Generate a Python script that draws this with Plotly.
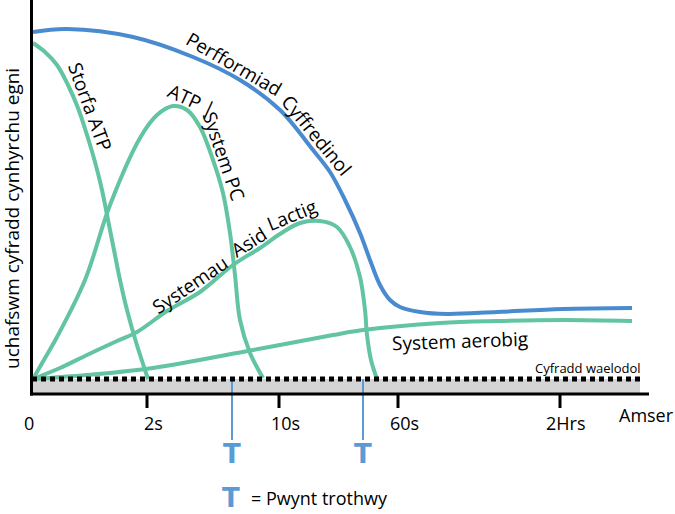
import math
import numpy as np
import plotly.graph_objects as go

# --- curve samples (x: time-axis units from origin, y: rate units above the time axis) ---
perf_x = [1, 35, 101, 161, 208, 248, 281, 298, 313, 328, 338, 348, 358, 368, 388, 415, 465, 531, 600]
perf_y = [362, 365, 357, 337, 314, 284, 244, 222, 194, 161, 134, 109, 94, 87, 82, 80, 82, 85, 86]

storfa_x = [1, 13, 25, 36, 46, 55, 63, 70, 76, 82, 88, 95, 104, 116]
storfa_y = [351, 342, 329, 309, 286, 259, 232, 204, 174, 144, 114, 84, 52, 15]

pc_x = [1, 13, 25, 53, 78, 108, 125, 141, 155, 168, 181, 191, 198, 203, 208, 218, 231]
pc_y = [15, 36, 57, 114, 189, 256, 279, 288, 284, 267, 234, 201, 161, 119, 74, 41, 16]

lactig_x = [1, 28, 55, 85, 105, 135, 168, 201, 228, 248, 268, 288, 305, 318, 328, 333, 335, 339, 345]
lactig_y = [15, 26, 39, 53, 62, 83, 102, 129, 146, 160, 171, 173, 167, 147, 117, 84, 59, 34, 15]

aerobig_x = [1, 55, 121, 221, 301, 331, 408, 465, 531, 600]
aerobig_y = [15, 19, 26, 44, 59, 64, 71, 73, 74, 73]

baseline_level = 15
band_end = 608
axis_end = 617
ymax = 394

tick_vals = [115, 247, 366, 528]
tick_text = ["2s", "10s", "60s", "2Hrs"]
threshold_x = [200, 331]

GREEN = "#62c4a1"
BLUE = "#4a8bd0"
TBLUE = "#5b9bd5"
FONT = "Open Sans"

curves = {
    "perf": (perf_x, perf_y),
    "storfa": (storfa_x, storfa_y),
    "pc": (pc_x, pc_y),
    "lactig": (lactig_x, lactig_y),
}

# (text, curve, position along x, gap off the curve, angle override)
curve_labels = [
    ("Perfformiad", "perf", 196, 12, 30),
    ("Cyffredinol", "perf", 275, 12, None),
    ("Storfa ATP", "storfa", 47, 12, None),
    ("ATP |", "pc", 155, 11, 25),
    ("System PC", "pc", 181, 11, None),
    ("Systemau", "lactig", 164, 11, -34),
    ("Asid", "lactig", 223, 11, None),
    ("Lactig", "lactig", 264, 11, -22),
]


# place a word along a curve: 1 axis unit is 1 px on both axes here
def label_on(cx, cy, at, gap, angle=None):
    y0 = np.interp(at - 4, cx, cy)
    y1 = np.interp(at + 4, cx, cy)
    if angle is None:
        angle = -math.degrees(math.atan2(y1 - y0, 8))
    a = math.radians(angle)
    ym = np.interp(at, cx, cy)
    return at + gap * math.sin(a), ym + gap * math.cos(a), angle


fig = go.Figure()

# grey band under the basal rate
fig.add_shape(type="rect", x0=0, x1=band_end, y0=0, y1=baseline_level,
              fillcolor="#d4d4d4", line_width=0, layer="below")

for xs, ys, col in [(storfa_x, storfa_y, GREEN), (pc_x, pc_y, GREEN),
                    (lactig_x, lactig_y, GREEN), (aerobig_x, aerobig_y, GREEN),
                    (perf_x, perf_y, BLUE)]:
    fig.add_trace(go.Scatter(x=xs, y=ys, mode="lines",
                             line=dict(color=col, width=4, shape="spline"),
                             hoverinfo="skip"))

# threshold markers
for tx in threshold_x:
    fig.add_trace(go.Scatter(x=[tx, tx], y=[baseline_level, -46], mode="lines",
                             line=dict(color=TBLUE, width=2), hoverinfo="skip"))
    fig.add_annotation(x=tx, y=-60, text="<b>T</b>", showarrow=False,
                       font=dict(family="DejaVu Sans", size=26, color=TBLUE))

# dotted basal line
fig.add_trace(go.Scatter(x=[0, band_end], y=[baseline_level, baseline_level], mode="lines",
                         line=dict(color="black", width=5, dash="5px,4px"), hoverinfo="skip"))

# axes
fig.add_shape(type="line", x0=-0.5, x1=-0.5, y0=ymax, y1=-1.5, line=dict(color="black", width=3))
fig.add_shape(type="line", x0=-2, x1=axis_end, y0=0, y1=0, line=dict(color="black", width=3))
for tv, tt in zip(tick_vals, tick_text):
    fig.add_shape(type="line", x0=tv, x1=tv, y0=0, y1=-14, line=dict(color="black", width=3))
    fig.add_annotation(x=tv + 6, y=-29, text=tt, showarrow=False,
                       font=dict(family=FONT, size=18, color="black"))
fig.add_annotation(x=-3, y=-29, text="0", showarrow=False,
                   font=dict(family=FONT, size=18, color="black"))
fig.add_annotation(x=614, y=-21, text="Amser", showarrow=False,
                   font=dict(family=FONT, size=18, color="black"))
fig.add_annotation(x=-20, y=175, text="uchafswm cyfradd cynhyrchu egni", textangle=-90,
                   showarrow=False, font=dict(family=FONT, size=19, color="black"))

# curve labels
for txt, key, at, gap, ang in curve_labels:
    lx, ly, ang = label_on(*curves[key], at, gap, ang)
    fig.add_annotation(x=lx, y=ly, text=txt, textangle=ang, showarrow=False,
                       font=dict(family=FONT, size=19, color="black"))

fig.add_annotation(x=428, y=53, text="System aerobig", textangle=-2, showarrow=False,
                   font=dict(family=FONT, size=19, color="black"))
fig.add_annotation(x=556, y=26, text="Cyfradd waelodol", showarrow=False,
                   font=dict(family=FONT, size=13, color="black"))

# legend
fig.add_annotation(x=199, y=-104, text="<b>T</b>", showarrow=False,
                   font=dict(family="DejaVu Sans", size=26, color=TBLUE))
fig.add_annotation(x=217, y=-104, text="= Pwynt trothwy", xanchor="left", showarrow=False,
                   font=dict(family=FONT, size=18, color="black"))

fig.update_layout(
    width=675, height=514,
    margin=dict(l=0, r=0, t=0, b=0),
    paper_bgcolor="white", plot_bgcolor="white",
    showlegend=False,
    xaxis=dict(range=[-32, 643], visible=False, fixedrange=True),
    yaxis=dict(range=[-120, 394], visible=False, fixedrange=True),
)

# page has a default body margin; drop it so the figure sits at the window corner
fig.write_html("out.html", config={"displayModeBar": False},
               post_script="document.body.style.margin='0';")
